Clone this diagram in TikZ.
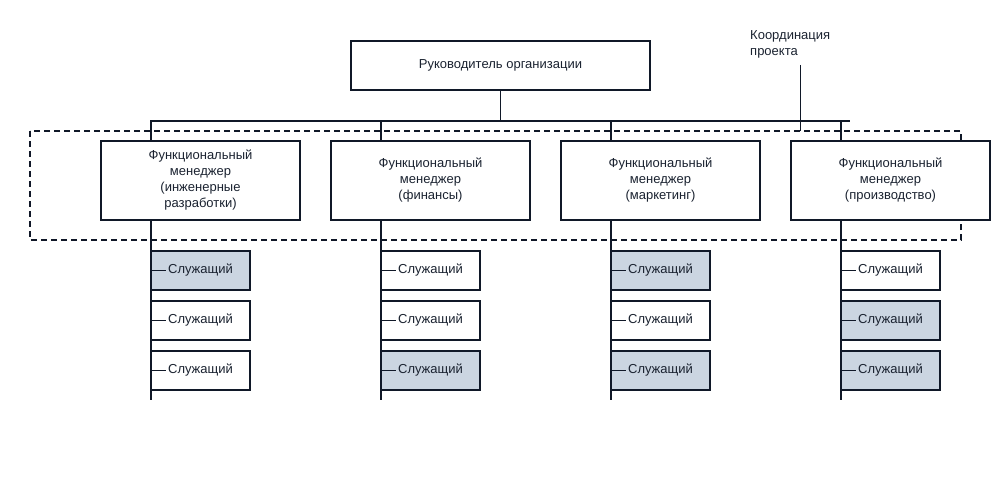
\documentclass[tikz,border=0pt]{standalone}
\usepackage{fontspec}
\setmainfont{Liberation Sans}
\begin{document}
\begin{tikzpicture}[x=1pt,y=-1pt,
  ln/.style={draw=lc,line width=1.6pt},
  box/.style={ln,fill=white,minimum width=199pt,inner sep=0pt,align=center,font=\fontsize{13}{16}\selectfont,text=tc},
  emp/.style={ln,fill=white,minimum width=99pt,minimum height=39pt,inner sep=0pt,font=\fontsize{13}{16}\selectfont,text=tc},
  sh/.style={fill=sc}]
\definecolor{lc}{HTML}{101828}
\definecolor{tc}{HTML}{1A2230}
\definecolor{sc}{HTML}{CBD5E1}
\useasboundingbox (0,0) rectangle (1000,500);
\node[box,minimum width=299pt,minimum height=49pt] (top) at (500.5,65.5) {Руководитель организации};
\node[font=\fontsize{13}{16}\selectfont,text=tc,align=left,anchor=north west,inner sep=0pt] (coord) at (750,30) {Координация\\проекта};
\coordinate (bl) at (150,121);
\coordinate (br) at (850,121);
\coordinate (ct) at (500.5,121);
\coordinate (cb) at (800,131);
\draw[ln] (top.south) -- (ct);
\draw[ln] (bl) -- (br);
\draw[draw=lc,line width=1pt] (800,65) -- (cb);
\draw[ln,dash pattern=on 6pt off 4pt] (30,131) rectangle (961,240);
\foreach \i/\x/\t in {1/151/{Функциональный\\менеджер\\(инженерные\\разработки)},2/381/{Функциональный\\менеджер\\(финансы)},3/611/{Функциональный\\менеджер\\(маркетинг)},4/841/{Функциональный\\менеджер\\(производство)}}{
  \coordinate (t\i) at (\x,121);
  \coordinate (e\i) at (\x,400);
  \draw[ln] (t\i) -- (e\i);
  \node[box,minimum height=79pt] (f\i) at (\x+49.5,180.5) {\t};
}
\foreach \i/\x/\a/\b/\c in {1/151/sh//,2/381///sh,3/611/sh//sh,4/841//sh/sh}{
  \node[emp,\a] (s\i a) at (\x+49.5,270.5) {Служащий};
  \node[emp,\b] (s\i b) at (\x+49.5,320.5) {Служащий};
  \node[emp,\c] (s\i c) at (\x+49.5,370.5) {Служащий};
  \foreach \r in {a,b,c}{\draw[draw=lc,line width=1.4pt] (s\i\r.west) -- ++(16,0);}
}
\end{tikzpicture}
\end{document}
